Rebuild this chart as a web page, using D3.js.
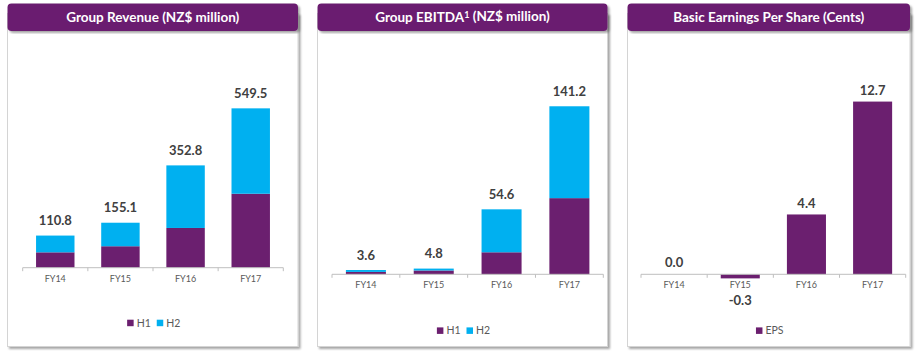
<!DOCTYPE html>
<html><head><meta charset="utf-8">
<script src="https://cdn.jsdelivr.net/npm/d3@7"></script>
<style>
html,body{margin:0;padding:0;background:#fff;}
svg{display:block;font-family:Lato,"Open Sans",sans-serif;}
</style></head>
<body><svg id="c" width="918" height="355"></svg>
<script>
// ---- data ----
const categories = ["FY14","FY15","FY16","FY17"];
const revenueH1 = [53.0, 74.0, 137.0, 255.0];
const revenueH2 = [57.8, 81.1, 215.8, 294.5];
const revenueTotal = [110.8, 155.1, 352.8, 549.5];
const ebitdaH1 = [2.0, 3.2, 18.5, 64.0];
const ebitdaH2 = [1.6, 1.6, 36.1, 77.2];
const ebitdaTotal = [3.6, 4.8, 54.6, 141.2];
const eps = [0.0, -0.3, 4.4, 12.7];
const legendHalves = ["H1","H2"];
const legendEps = ["EPS"];
const titles = ["Group Revenue (NZ$ million)", "Group EBITDA", "Basic Earnings Per Share (Cents)"];

const PURPLE = "#6B1F6F", CYAN = "#00B0F0";
const svg = d3.select("#c");
const defs = svg.append("defs");
const f = defs.append("filter").attr("id","sh").attr("x","-5%").attr("y","-5%").attr("width","115%").attr("height","115%");
f.append("feDropShadow").attr("dx",2).attr("dy",2).attr("stdDeviation",1.3).attr("flood-color","#000").attr("flood-opacity",0.35);

const panels = [
  {left:7.5,right:298,axisY:267.7,x0:22.7,x1:283.3,domain:[0,600],px:174,legendY:323,
   series:[{vals:revenueH1,color:PURPLE},{vals:revenueH2,color:CYAN}],totals:revenueTotal,legend:legendHalves,labOff:15,title:0},
  {left:317.5,right:607.5,axisY:274.3,x0:332,x1:603.3,domain:[0,160],px:190.4,legendY:330.7,
   series:[{vals:ebitdaH1,color:PURPLE},{vals:ebitdaH2,color:CYAN}],totals:ebitdaTotal,legend:legendHalves,labOff:15,title:1},
  {left:627.5,right:910,axisY:274.3,x0:641,x1:905.7,domain:[0,14],px:190.4,legendY:330.7,
   series:[{vals:eps,color:PURPLE}],totals:eps,legend:legendEps,labOff:11.5,title:2}
];

panels.forEach((p,pi)=>{
  const g = svg.append("g");
  const top=3.5, bottom=346.5, hdrB=31;
  // box
  g.append("rect").attr("x",p.left).attr("y",top+10).attr("width",p.right-p.left).attr("height",bottom-top-10)
    .attr("fill","#fff").attr("stroke","#d4d4d4").attr("stroke-width",1).attr("filter","url(#sh)");
  // header
  g.append("rect").attr("x",p.left).attr("y",top).attr("width",p.right-p.left).attr("height",hdrB-top)
    .attr("rx",4).attr("fill",PURPLE).attr("filter","url(#sh)");
  const t = g.append("text").attr("x",(p.left+p.right)/2).attr("y",17.5).attr("dy","0.35em")
    .attr("text-anchor","middle").attr("fill","#fff").attr("font-weight","bold").attr("font-size",13.5);
  if (p.title===1){
    t.append("tspan").text(titles[1]);
    t.append("tspan").text("1").attr("font-size",9).attr("dy","-0.5em");
    t.append("tspan").text(" (NZ$ million)").attr("dy","0.22em");
  } else t.text(titles[p.title]);

  const x = d3.scaleBand().domain(categories).range([p.x0,p.x1]).paddingInner(0.41).paddingOuter(0.205);
  const y = d3.scaleLinear().domain(p.domain).range([p.axisY, p.axisY - p.px]);

  // bars
  const cum = categories.map(()=>0);
  p.series.forEach(s=>{
    g.append("g").selectAll("rect").data(categories).join("rect")
      .attr("x",d=>x(d)).attr("width",x.bandwidth())
      .attr("y",(d,i)=>{const a=cum[i], b=cum[i]+s.vals[i]; return y(Math.max(a,b));})
      .attr("height",(d,i)=>{const a=cum[i], b=cum[i]+s.vals[i]; return Math.abs(y(a)-y(b));})
      .attr("fill",s.color);
    s.vals.forEach((v,i)=>cum[i]+=v);
  });

  // axis
  const step = x.step();
  g.append("line").attr("x1",p.x0).attr("x2",p.x1).attr("y1",p.axisY).attr("y2",p.axisY)
    .attr("stroke","#bfbfbf").attr("stroke-width",1);
  g.append("g").selectAll("line").data(d3.range(categories.length+1)).join("line")
    .attr("x1",i=>p.x0+i*step).attr("x2",i=>p.x0+i*step).attr("y1",p.axisY).attr("y2",p.axisY+3.5)
    .attr("stroke","#bfbfbf");
  g.append("g").selectAll("text").data(categories).join("text")
    .attr("x",d=>x(d)+x.bandwidth()/2).attr("y",p.axisY+10.8).attr("dy","0.35em")
    .attr("text-anchor","middle").attr("font-size",9).attr("fill","#595959").text(d=>d);

  // value labels
  g.append("g").selectAll("text").data(categories).join("text")
    .attr("x",d=>x(d)+x.bandwidth()/2)
    .attr("y",(d,i)=>{const v=p.totals[i]; return v<0 ? y(v)+22.5 : y(v)-p.labOff;})
    .attr("dy","0.35em").attr("text-anchor","middle").attr("font-size",13).attr("font-weight","bold")
    .attr("fill","#404040").text((d,i)=>p.totals[i].toFixed(1));

  // legend
  const lg = g.append("g");
  const items = p.legend.map((name,i)=>({name,color:p.series[i].color}));
  let cx = 0; const parts=[];
  items.forEach(it=>{
    const r = lg.append("rect").attr("width",6.5).attr("height",6.5).attr("fill",it.color);
    const tx = lg.append("text").attr("font-size",10.5).attr("fill","#595959").text(it.name);
    parts.push({r,tx,x:cx});
    const w = tx.node().getComputedTextLength();
    cx += 9.5 + w + 6;
  });
  const total = cx - 6;
  const start = (p.left+p.right)/2 - total/2 + 1;
  parts.forEach(pt=>{
    pt.r.attr("x",start+pt.x).attr("y",p.legendY-3.3);
    pt.tx.attr("x",start+pt.x+9.5).attr("y",p.legendY).attr("dy","0.35em");
  });
});
</script></body></html>
